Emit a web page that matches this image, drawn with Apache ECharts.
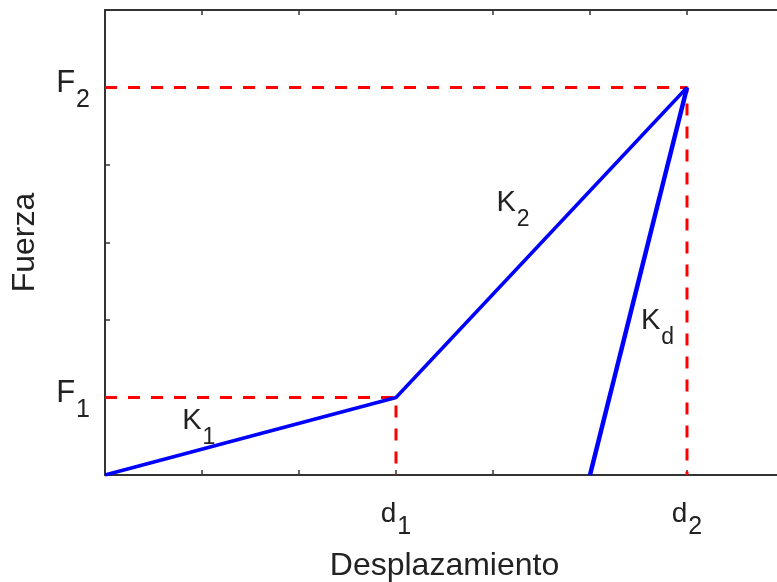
<!DOCTYPE html>
<html><head><meta charset="utf-8">
<script src="https://cdn.jsdelivr.net/npm/echarts@6/dist/echarts.min.js"></script>
<style>html,body{margin:0;padding:0;background:#fff}#c{width:777px;height:582px}</style>
</head><body><div id="c"></div><script>
// Force-displacement (bilinear) diagram
const loadX = [0, 3, 6];
const loadY = [0, 1, 5];
const unloadX = [5, 6];
const unloadY = [0, 5];
const d1 = 3, d2 = 6, F1 = 1, F2 = 5;
const xTickValues = [3, 6];
const xTickSubs = ['1', '2'];
const yTickValues = [1, 5];
const yTickSubs = ['1', '2'];
const slopeSubs = ['1', '2', 'd'];
const slopeX = [0.79, 4.03, 5.52];
const slopeY = [0.70, 3.51, 1.99];

const FONT = '"Liberation Sans", Arial, Helvetica, sans-serif';
const TXT = '#222222';
const AX = '#333333';

const chart = echarts.init(document.getElementById('c'), null, {renderer: 'canvas'});

const xAxisBase = {
  type: 'value', min: 0, max: 7, interval: 1,
  splitLine: {show: false},
  axisLine: {show: true, onZero: false, lineStyle: {color: AX, width: 2}},
  axisTick: {show: true, inside: true, length: 5, lineStyle: {color: AX, width: 1.5}}
};

const option = {
  animation: false,
  backgroundColor: '#ffffff',
  grid: {left: 105, top: 10, width: 679, height: 465, containLabel: false, outerBoundsMode: 'none'},
  xAxis: [
    Object.assign({}, xAxisBase, {
      position: 'bottom',
      name: 'Desplazamiento', nameLocation: 'middle', nameGap: 75,
      nameTextStyle: {fontFamily: FONT, fontSize: 32, color: TXT},
      axisLabel: {
        show: true, margin: 25, fontFamily: FONT, color: TXT,
        formatter: function (v) {
          const i = xTickValues.indexOf(v);
          return i < 0 ? '' : '{m|d}{s|' + xTickSubs[i] + '}';
        },
        rich: {
          m: {fontFamily: FONT, fontSize: 28, color: TXT, verticalAlign: 'top', lineHeight: 28},
          s: {fontFamily: FONT, fontSize: 25, color: TXT, verticalAlign: 'top', lineHeight: 25, padding: [15, 0, 0, 1]}
        }
      }
    }),
    Object.assign({}, xAxisBase, {position: 'top', axisLabel: {show: false}})
  ],
  yAxis: [{
    type: 'value', min: 0, max: 6, interval: 1,
    splitLine: {show: false},
    axisLine: {show: true, onZero: false, lineStyle: {color: AX, width: 2}},
    axisTick: {show: true, inside: true, length: 5, lineStyle: {color: AX, width: 1.5}},
    name: 'Fuerza', nameLocation: 'middle', nameGap: 64,
    nameTextStyle: {fontFamily: FONT, fontSize: 32, color: TXT},
    axisLabel: {
      show: true, margin: 15, fontFamily: FONT, color: TXT, padding: [0, 0, 9, 0],
      formatter: function (v) {
        const i = yTickValues.indexOf(v);
        return i < 0 ? '' : '{m|F}{s|' + yTickSubs[i] + '}';
      },
      rich: {
        m: {fontFamily: FONT, fontSize: 31, color: TXT, verticalAlign: 'top', lineHeight: 31},
        s: {fontFamily: FONT, fontSize: 25, color: TXT, verticalAlign: 'top', lineHeight: 25, padding: [20, 0, 0, 1]}
      }
    }
  }],
  series: [
    {
      type: 'line', showSymbol: false, symbol: 'none', z: 2,
      data: [[0, F1], [d1, F1], [d1, 0]],
      lineStyle: {color: '#ff0000', width: 3, type: [12, 11]}
    },
    {
      type: 'line', showSymbol: false, symbol: 'none', z: 2,
      data: [[0, F2], [d2, F2], [d2, 0]],
      lineStyle: {color: '#ff0000', width: 3, type: [12, 11]}
    },
    {
      type: 'line', showSymbol: false, symbol: 'none', z: 3,
      data: loadX.map((x, i) => [x, loadY[i]]),
      lineStyle: {color: '#0000ff', width: 3.5}
    },
    {
      type: 'line', showSymbol: false, symbol: 'none', z: 3,
      data: unloadX.map((x, i) => [x, unloadY[i]]),
      lineStyle: {color: '#0000ff', width: 4.5}
    },
    {
      type: 'scatter', symbolSize: 1, z: 4,
      itemStyle: {color: 'rgba(255,255,255,0)', opacity: 1},
      data: slopeX.map((x, i) => [x, slopeY[i]]),
      label: {
        show: true, position: 'right', distance: 0, opacity: 1, color: TXT,
        formatter: function (p) { return '{m|K}{s|' + slopeSubs[p.dataIndex] + '}'; },
        rich: {
          m: {fontFamily: FONT, fontSize: 29, color: TXT, opacity: 1, verticalAlign: 'top', lineHeight: 29},
          s: {fontFamily: FONT, fontSize: 23, color: TXT, opacity: 1, verticalAlign: 'top', lineHeight: 23, padding: [20, 0, 0, 1]}
        }
      }
    }
  ]
};
chart.setOption(option);
</script></body></html>
